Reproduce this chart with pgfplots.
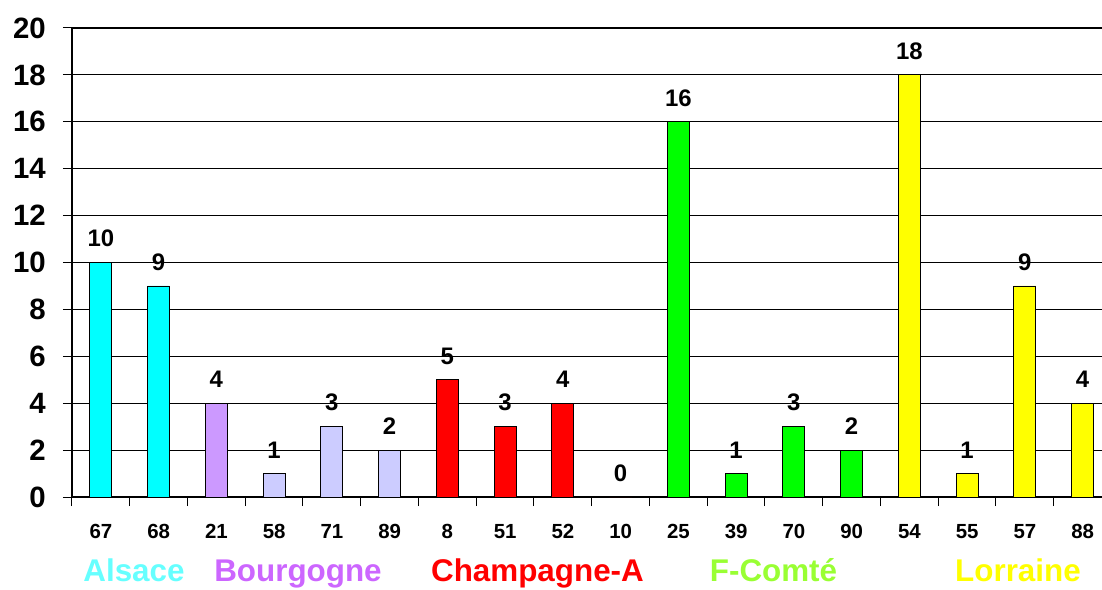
\documentclass[border=0pt]{standalone}
\usepackage{fontspec}
\setmainfont{Liberation Sans}
\usepackage{pgfplots}
\pgfplotsset{compat=1.18}
\definecolor{cAls}{HTML}{00FFFF}
\definecolor{cBou}{HTML}{CC99FF}
\definecolor{cBou2}{HTML}{CCCCFF}
\definecolor{cCha}{HTML}{FF0000}
\definecolor{cFC}{HTML}{00FF00}
\definecolor{cLor}{HTML}{FFFF00}
\definecolor{tAls}{HTML}{66FFFF}
\definecolor{tBou}{HTML}{CC66FF}
\definecolor{tCha}{HTML}{FF0000}
\definecolor{tFC}{HTML}{99FF33}
\definecolor{tLor}{HTML}{FFFF00}
\begin{document}
\begin{tikzpicture}
\begin{axis}[
  scale only axis,
  width=1039.5bp, height=469bp,
  xmin=-0.5, xmax=17.5,
  ymin=0, ymax=20,
  ytick={0,2,...,20},
  xtick={-0.5,0.5,...,17.5},
  xticklabels={},
  extra x ticks={0,...,17},
  extra x tick labels={67,68,21,58,71,89,8,51,52,10,25,39,70,90,54,55,57,88},
  extra x tick style={xtick style={draw=none}, xticklabel style={anchor=base, yshift=-32bp}},
  axis x line*=bottom,
  axis y line*=left,
  x axis line style={line width=1.8bp, -},
  y axis line style={line width=1.3bp, -},
  tick align=outside,
  major tick length=9bp,
  tick style={black, line width=1bp},
  ymajorgrids,
  grid style={black, line width=0.9bp},
  /pgf/number format/assume math mode=true,
  yticklabel style={font=\fontsize{29.5}{30}\selectfont\bfseries, anchor=east, inner sep=0pt, xshift=-17bp},
  xticklabel style={font=\fontsize{20.5}{21}\selectfont\bfseries},
  ybar, bar width=22bp, bar shift=0pt,
  nodes near coords,
  every node near coord/.append style={font=\fontsize{24}{24}\selectfont\bfseries, anchor=south, inner sep=0pt, yshift=15bp},
  clip=false,
]
\addplot[fill=cAls, draw=black, line width=0.8bp] coordinates {(0,10) (1,9)};
\addplot[fill=cBou, draw=black, line width=0.8bp] coordinates {(2,4)};
\addplot[fill=cBou2, draw=black, line width=0.8bp] coordinates {(3,1) (4,3) (5,2)};
\addplot[fill=cCha, draw=black, line width=0.8bp] coordinates {(6,5) (7,3) (8,4) (9,0)};
\addplot[fill=cFC, draw=black, line width=0.8bp] coordinates {(10,16) (11,1) (12,3) (13,2)};
\addplot[fill=cLor, draw=black, line width=0.8bp] coordinates {(14,18) (15,1) (16,9) (17,4)};
\draw[black, line width=1.8bp] (rel axis cs:0,1) -- (rel axis cs:1,1);
\end{axis}
\begin{scope}[every node/.style={font=\fontsize{31.5}{32}\selectfont\bfseries, anchor=base, inner sep=0pt}]
\node[text=tAls] at (62bp,-84.7bp) {Alsace};
\node[text=tBou] at (226bp,-84.7bp) {Bourgogne};
\node[text=tCha] at (465.5bp,-84.7bp) {Champagne-A};
\node[text=tFC] at (701.5bp,-84.7bp) {F-Comté};
\node[text=tLor] at (946bp,-84.7bp) {Lorraine};
\end{scope}
\pgfresetboundingbox
\path (-72bp,-93bp) rectangle (1030bp,497bp);
\end{tikzpicture}
\end{document}
